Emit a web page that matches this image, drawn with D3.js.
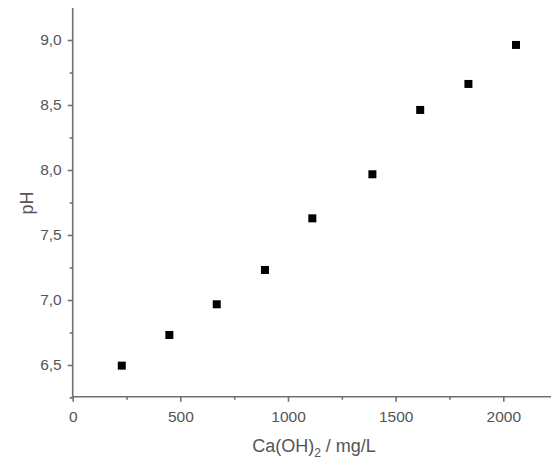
<!DOCTYPE html>
<html><head><meta charset="utf-8">
<script src="https://cdn.jsdelivr.net/npm/d3@7/dist/d3.min.js"></script>
<style>body{margin:0;background:#fff}svg{display:block}</style>
</head><body>
<script>
const caOH = [228, 449, 669, 893, 1113, 1392, 1614, 1838, 2059];
const pH = [6.495, 6.731, 6.967, 7.231, 7.628, 7.967, 8.462, 8.662, 8.962];
const xTicks = [0, 500, 1000, 1500, 2000];
const yTicks = [6.5, 7.0, 7.5, 8.0, 8.5, 9.0];
const xMinor = [250, 750, 1250, 1750, 2250];
const yMinor = [6.25, 6.75, 7.25, 7.75, 8.25, 8.75, 9.25];

const W = 552, H = 460;
const FONT = "'Liberation Sans', Arial, sans-serif";
const svg = d3.select("body").append("svg").attr("width", W).attr("height", H);
const x = d3.scaleLinear().domain([0, 2000]).range([72.7, 503.3]);
const y = d3.scaleLinear().domain([6.5, 9.0]).range([365, 40]);
const axisColor = "#707070", textColor = "#555";
const fmtY = d => d3.format(".1f")(d).replace(".", ",");
const fmtX = d3.format("d");

const x0 = x(0), yBot = y(6.256), yTop = y(9.246), xRight = 551;

// x axis
const gx = svg.append("g").attr("transform", `translate(0,${yBot})`);
gx.call(d3.axisBottom(x).tickValues(xTicks).tickSize(5).tickSizeOuter(0).tickPadding(9).tickFormat(fmtX));
gx.append("g").call(d3.axisBottom(x).tickValues(xMinor.filter(v => x(v) < xRight)).tickSize(3).tickFormat(""));
gx.selectAll(".domain").remove();
gx.append("line").attr("x1", x0 - 1).attr("x2", xRight).attr("y1", 0).attr("y2", 0);

// y axis
const gy = svg.append("g").attr("transform", `translate(${x0},0)`);
gy.call(d3.axisLeft(y).tickValues(yTicks).tickSize(5).tickSizeOuter(0).tickPadding(6).tickFormat(fmtY));
gy.append("g").call(d3.axisLeft(y).tickValues(yMinor.filter(v => y(v) > yTop)).tickSize(3).tickFormat(""));
gy.selectAll(".domain").remove();
gy.append("line").attr("x1", 0).attr("x2", 0).attr("y1", yTop).attr("y2", yBot + 1);

svg.selectAll("g").attr("font-family", null).attr("font-size", null);
svg.selectAll("line").attr("stroke", axisColor).attr("stroke-width", 1.6);
svg.selectAll(".tick text").attr("fill", textColor)
  .style("font-family", FONT).style("font-size", "15.5px");

// points
svg.append("g").selectAll("rect").data(caOH).join("rect")
  .attr("x", (d) => x(d) - 4).attr("y", (d, i) => y(pH[i]) - 4)
  .attr("width", 8).attr("height", 8).attr("fill", "#000");

// titles
const xt = svg.append("text").attr("x", 314).attr("y", 452).attr("text-anchor", "middle")
  .attr("fill", textColor).style("font-family", FONT).style("font-size", "18px");
xt.append("tspan").text("Ca(OH)");
xt.append("tspan").text("2").attr("dy", 5).style("font-size", "12px");
xt.append("tspan").text(" / mg/L").attr("dy", -5);

svg.append("text").attr("transform", "translate(33,203) rotate(-90)").attr("text-anchor", "middle")
  .attr("fill", textColor).style("font-family", FONT).style("font-size", "18px")
  .text("pH");
</script>
</body></html>
